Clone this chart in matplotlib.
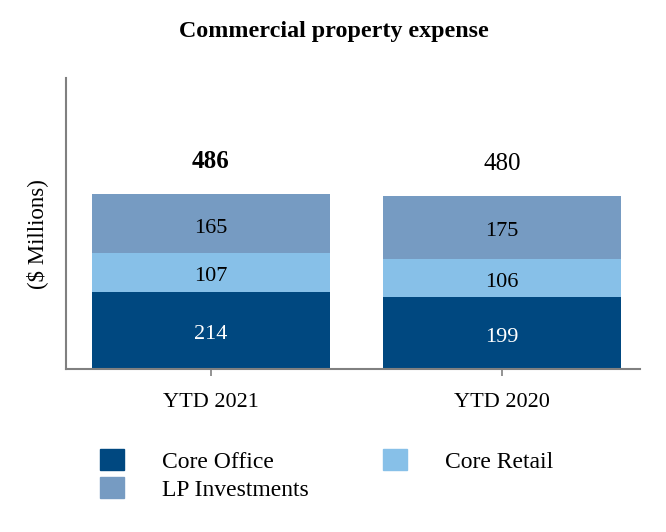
import matplotlib
matplotlib.use("Agg")
import matplotlib.pyplot as plt
from matplotlib.patches import Patch

plt.rcParams['font.family'] = ['Liberation Serif', 'DejaVu Serif']

periods = ["YTD 2021", "YTD 2020"]
core_office = [214, 199]
core_retail = [107, 106]
lp_investments = [165, 175]
totals = [486, 480]

c_office = '#004880'
c_retail = '#87c0e8'
c_lp = '#769bc2'

fig = plt.figure(figsize=(6.66, 5.32), dpi=100)
ax = fig.add_axes([66 / 666, 1 - 369 / 532, (640 - 66) / 666, (369 - 78) / 532])

x = list(range(len(periods)))
w = 0.82
ax.bar(x, core_office, w, color=c_office)
ax.bar(x, core_retail, w, bottom=core_office, color=c_retail)
bottom2 = [a + b for a, b in zip(core_office, core_retail)]
ax.bar(x, lp_investments, w, bottom=bottom2, color=c_lp)

# segment labels sit a little below the middle, like the original
off = -12
for i in x:
    ax.text(i, core_office[i] / 2 + off, str(core_office[i]), ha='center', va='center',
            color='white', fontsize=16)
    ax.text(i, core_office[i] + core_retail[i] / 2 + off, str(core_retail[i]),
            ha='center', va='center', color='black', fontsize=16)
    ax.text(i, bottom2[i] + lp_investments[i] / 2 + off, str(lp_investments[i]),
            ha='center', va='center', color='black', fontsize=16)
    ax.text(i, totals[i] + 90, str(totals[i]), ha='center', va='center',
            fontsize=18, fontweight='bold' if i == 0 else 'normal')

ax.set_xlim(-0.498, 1.474)
ax.set_ylim(0, 808)
ax.set_xticks(x)
ax.set_xticklabels(periods, fontsize=16)
ax.set_yticks([])
ax.tick_params(axis='x', length=5, width=1.2, color='#808080', pad=12)
for s in ['top', 'right']:
    ax.spines[s].set_visible(False)
for s in ['left', 'bottom']:
    ax.spines[s].set_color('#808080')
    ax.spines[s].set_linewidth(1.5)
ax.set_ylabel("($ Millions)", fontsize=16.5)
ax.yaxis.set_label_coords(-0.031, 0.464)

fig.text(334 / 666, 1 - 32 / 532, "Commercial property expense", ha='center', va='center',
         fontsize=17.3, fontweight='bold')

handles = [Patch(color=c_office), Patch(color=c_retail), Patch(color=c_lp)]
labels = ["Core Office", "Core Retail", "LP Investments"]
fig.legend([handles[0], handles[2], handles[1]], [labels[0], labels[2], labels[1]],
           ncol=2, loc='upper left', bbox_to_anchor=(79 / 666, 1 - 428 / 532),
           frameon=False, fontsize=17, handlelength=1.0, handleheight=1.0,
           handletextpad=1.6, columnspacing=3.17, labelspacing=0.18)

fig.savefig("out.png", dpi=100)
